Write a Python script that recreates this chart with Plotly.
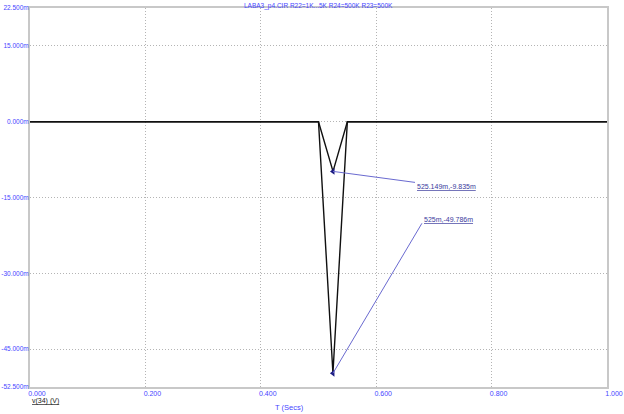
import plotly.graph_objects as go

# Data
t = [0.0, 0.5, 0.525, 0.55, 1.0]
v_deep = [0.0, 0.0, -49.786, 0.0, 0.0]
t_shallow = [0.0, 0.5, 0.525149, 0.55, 1.0]
v_shallow = [0.0, 0.0, -9.835, 0.0, 0.0]

y_ticks = [22.5, 15.0, 0.0, -15.0, -30.0, -45.0, -52.5]
y_labels = ["22.500m", "15.000m", "0.000m", "-15.000m", "-30.000m", "-45.000m", "-52.500m"]
x_ticks = [0.0, 0.2, 0.4, 0.6, 0.8, 1.0]
x_labels = ["0.000", "0.200", "0.400", "0.600", "0.800", "1.000"]

cursor_pts = [(0.525149, -9.835, "525.149m,-9.835m"), (0.525, -49.786, "525m,-49.786m")]

BLUE = "#4646ff"
ANN_TXT = "#3a3a9c"
ANN_LINE = "#6a6ad0"
FONT = "Liberation Sans, Arial, sans-serif"
FS = 7

fig = go.Figure()
fig.add_trace(go.Scatter(x=t, y=v_deep, mode="lines", line=dict(color="#101010", width=1.4),
                         showlegend=False, hoverinfo="skip"))
fig.add_trace(go.Scatter(x=t_shallow, y=v_shallow, mode="lines", line=dict(color="#101010", width=1.4),
                         showlegend=False, hoverinfo="skip"))
fig.add_trace(go.Scatter(x=[p[0] for p in cursor_pts], y=[p[1] for p in cursor_pts], mode="markers",
                         marker=dict(symbol="triangle-left", size=6, color="#1a1a80"),
                         showlegend=False, hoverinfo="skip"))

# cursor label offsets (pixels)
offsets = [(82, -11, -15), (89, 150, 154)]
for (px, py, txt), (dx, dy, ty) in zip(cursor_pts, offsets):
    fig.add_shape(type="line", xref="x", yref="y", xsizemode="pixel", ysizemode="pixel",
                  xanchor=px, yanchor=py, x0=0, x1=dx, y0=0, y1=dy,
                  line=dict(color=ANN_LINE, width=1))
    fig.add_annotation(x=px, y=py, xref="x", yref="y", text="<u>" + txt + "</u>", showarrow=False,
                       xanchor="left", yanchor="middle", xshift=dx, yshift=ty,
                       font=dict(family=FONT, size=FS, color=ANN_TXT))

fig.add_annotation(x=0.5, y=1, xref="paper", yref="paper", yanchor="bottom", yshift=-4,
                   text="LABA3_p4.CIR R22=1K...5K R24=500K R23=500K", showarrow=False,
                   font=dict(family=FONT, size=6.5, color=BLUE))
fig.add_annotation(x=0.449, y=0, xref="paper", yref="paper", yanchor="middle", yshift=-20,
                   text="T (Secs)", showarrow=False, font=dict(family=FONT, size=7.5, color=BLUE))
fig.add_annotation(x=0, y=0, xref="paper", yref="paper", xanchor="left", yanchor="middle", yshift=-14,
                   text="<u>v(34) (V)</u>", showarrow=False, font=dict(family=FONT, size=FS, color="#202020"))

fig.update_layout(
    width=624, height=414,
    margin=dict(l=30, r=17, t=8, b=27, autoexpand=False),
    paper_bgcolor="white", plot_bgcolor="white",
    font=dict(family=FONT, size=FS, color=BLUE),
    xaxis=dict(range=[0, 1], tickvals=x_ticks, ticktext=x_labels, showgrid=True, automargin=False,
               gridcolor="#b4b4b4", griddash="1px,2px", gridwidth=1, zeroline=False,
               showline=True, linecolor="#c8c8c8", linewidth=2, mirror=True,
               ticks="", ticklabelshift=7, ticklabelstandoff=-1, tickfont=dict(size=FS, color=BLUE)),
    yaxis=dict(range=[-52.5, 22.5], tickvals=y_ticks, ticktext=y_labels, showgrid=True, automargin=False,
               gridcolor="#b4b4b4", griddash="1px,2px", gridwidth=1, zeroline=False,
               showline=True, linecolor="#c8c8c8", linewidth=2, mirror=True,
               ticks="", ticklabelstandoff=-2, tickfont=dict(size=6.5, color=BLUE)),
)

fig.write_html("out.html", config={"displayModeBar": False},
               post_script="document.body.style.margin='0';document.body.style.overflow='hidden';")
